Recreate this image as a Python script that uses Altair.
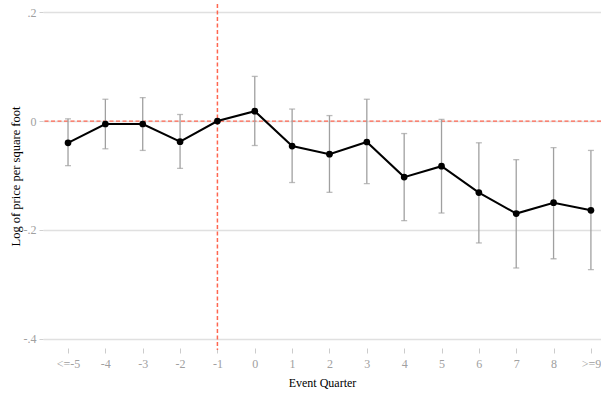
import altair as alt
import pandas as pd

# Event-study estimates: log price per square foot by event quarter
quarters = ["<=-5", "-4", "-3", "-2", "-1", "0", "1", "2", "3", "4", "5", "6", "7", "8", ">=9"]
coef = [-0.040, -0.0055, -0.0055, -0.038, 0.0, 0.018, -0.046, -0.061, -0.0385,
        -0.103, -0.083, -0.1315, -0.170, -0.150, -0.164]
ci_low = [-0.082, -0.051, -0.054, -0.087, None, -0.045, -0.113, -0.131, -0.115,
          -0.183, -0.169, -0.224, -0.270, -0.253, -0.273]
ci_high = [0.004, 0.040, 0.043, 0.012, None, 0.082, 0.022, 0.010, 0.040,
           -0.023, 0.003, -0.040, -0.071, -0.049, -0.054]
y_ticks = [0.2, 0.0, -0.2, -0.4]

df = pd.DataFrame({
    "idx": list(range(len(quarters))),
    "quarter": quarters,
    "coef": coef,
    "lo": ci_low,
    "hi": ci_high,
})
ci_df = df.dropna(subset=["lo", "hi"])

FONT = "Liberation Serif"
label_expr = "[" + ",".join(f"'{q}'" for q in quarters) + "][datum.value]"

x_scale = alt.Scale(domain=[-0.67, 14.27], nice=False, zero=False)
y_scale = alt.Scale(domain=[-0.417, 0.215], nice=False, zero=False)

x_axis = alt.Axis(values=list(range(len(quarters))), labelExpr=label_expr, grid=False,
                  labelOverlap=False, labelBound=False, labelFlush=False,
                  domain=False, tickColor="#cccccc", tickSize=5, tickWidth=1,
                  labelColor="#a0a0a0", labelFont=FONT, labelFontSize=12, labelPadding=5,
                  titleFont=FONT, titleFontSize=12, titleFontWeight="normal",
                  titleColor="#000000", titlePadding=8)
y_axis = alt.Axis(values=y_ticks,
                  labelExpr="datum.value == 0 ? '0' : (datum.value > 0 ? '.2' : (datum.value > -0.3 ? '-.2' : '-.4'))",
                  grid=True, gridColor="#e0e0e0", gridWidth=1.5, domain=False,
                  ticks=True, tickSize=4, tickColor="#d0d0d0", tickWidth=1,
                  labelOverlap=False, labelBound=False, labelFlush=False,
                  labelColor="#a0a0a0", labelFont=FONT, labelFontSize=12, labelPadding=3,
                  titleFont=FONT, titleFontSize=12.5, titleFontWeight="normal",
                  titleColor="#000000", titlePadding=1)

X_TITLE = "Event Quarter"
Y_TITLE = "Log of price per square foot"


def xe(field="idx"):
    return alt.X(f"{field}:Q", scale=x_scale, axis=x_axis, title=X_TITLE)


def ye(field):
    return alt.Y(f"{field}:Q", scale=y_scale, axis=y_axis, title=Y_TITLE)


red = "#ff6650"

hline = alt.Chart(pd.DataFrame({"coef": [0.0]})).mark_rule(
    color=red, strokeDash=[4, 2.5], strokeWidth=1.2
).encode(y=ye("coef"))

vline = alt.Chart(pd.DataFrame({"idx": [4]})).mark_rule(
    color=red, strokeDash=[4, 2.5], strokeWidth=1.5
).encode(x=xe(), y=alt.value(0), y2=alt.value(346))

bars = alt.Chart(ci_df).mark_rule(color="#a0a0a0", strokeWidth=1.3).encode(
    x=xe(), y=ye("lo"), y2="hi:Q"
)
cap_lo = alt.Chart(ci_df).mark_tick(color="#a0a0a0", orient="horizontal", size=6, thickness=1.3).encode(
    x=xe(), y=ye("lo")
)
cap_hi = alt.Chart(ci_df).mark_tick(color="#a0a0a0", orient="horizontal", size=6, thickness=1.3).encode(
    x=xe(), y=ye("hi")
)

line = alt.Chart(df).mark_line(color="#000000", strokeWidth=2).encode(x=xe(), y=ye("coef"))
points = alt.Chart(df).mark_point(filled=True, color="#000000", size=45, opacity=1).encode(
    x=xe(), y=ye("coef")
)

chart = alt.layer(hline, vline, bars, cap_lo, cap_hi, line, points).properties(
    width=558, height=344,
    autosize=alt.AutoSizeParams(type="none"),
    padding={"left": 43, "top": 4, "right": 0, "bottom": 48},
    background="#ffffff",
).configure_view(stroke=None).configure_axis(labelOverlap=False)

chart.save("out.html", embed_options={"renderer": "svg", "actions": False})
